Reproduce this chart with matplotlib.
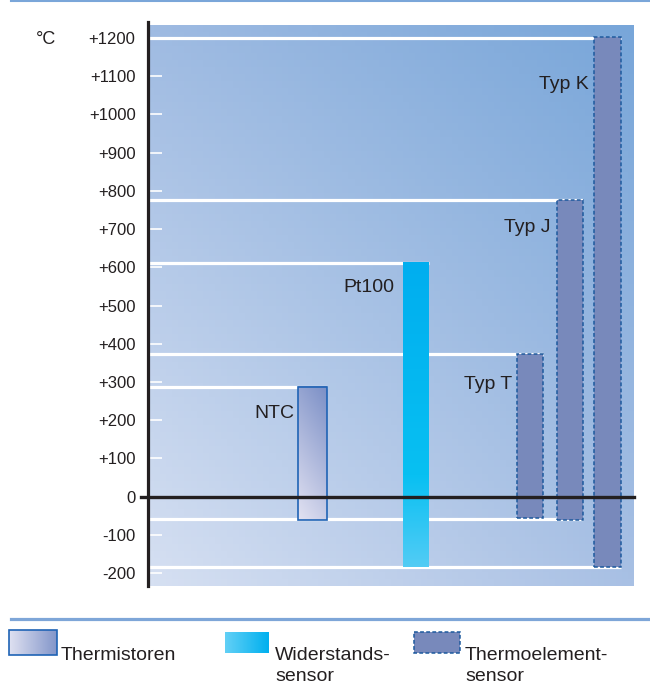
import numpy as np
import matplotlib.pyplot as plt
from matplotlib.patches import Rectangle
from matplotlib.colors import to_rgb

plt.rcParams['font.family'] = ['Liberation Sans', 'DejaVu Sans']

sensors = ['NTC', 'Pt100', 'Typ T', 'Typ J', 'Typ K']
t_min = [-62, -185, -55, -62, -185]
t_max = [287, 612, 373, 775, 1203]
kinds = ['thermistor', 'rtd', 'tc', 'tc', 'tc']

# white guide lines: level and the bar they run to
guide_levels = [1200, 775, 612, 373, 287, -58, -185]
guide_until = [4, 3, 1, 2, 0, 3, 4]

ticks = [-200, -100, 0, 100, 200, 300, 400, 500, 600, 700, 800, 900, 1000, 1100, 1200]
tick_labels = ['-200', '-100', '0', '+100', '+200', '+300', '+400', '+500', '+600',
               '+700', '+800', '+900', '+1000', '+1100', '+1200']

legend_first = ['Thermistoren', 'Widerstands-', 'Thermoelement-']
legend_second = ['', 'sensor', 'sensor']

# layout (x in pixels right of the axis)
x_pos = [164, 268, 382, 422, 459.5]
widths = [29, 26, 26, 26, 27]
label_x = [146, 246, 364, 402, 441]
label_y = [217, 548, 292, 703, 1077]

TXT = '#231f20'
TC_FACE = '#7889bb'
TC_EDGE = '#1d5a9e'
NTC_EDGE = '#1f63b5'


def gradient(c0, c1, n=64, horizontal=True):
    a = np.array(to_rgb(c0))
    b = np.array(to_rgb(c1))
    t = np.linspace(0, 1, n)
    g = a[None, :] * (1 - t[:, None]) + b[None, :] * t[:, None]
    return g[None, :, :] if horizontal else g[:, None, :]


fig = plt.figure(figsize=(6.5, 6.86), dpi=100)
ax = fig.add_axes([148 / 650, 100 / 686, 486 / 650, 561 / 686])
ylo, yhi = -234, 1234
xlo, xhi = 0, 486

# background, light bottom-left to darker top-right
tl, tr = np.array(to_rgb('#9fbbe2')), np.array(to_rgb('#78a6d9'))
bl, br = np.array(to_rgb('#d6e0f2')), np.array(to_rgb('#a8c0e4'))
u = np.linspace(0, 1, 80)[None, :, None]
v = np.linspace(0, 1, 80)[:, None, None]
bg = (bl * (1 - u) + br * u) * (1 - v) + (tl * (1 - u) + tr * u) * v
ax.imshow(bg, extent=[xlo, xhi, ylo, yhi], origin='lower', aspect='auto', zorder=0)

# guide lines
for lev, i in zip(guide_levels, guide_until):
    ax.plot([0, x_pos[i] + widths[i] / 2], [lev, lev], color='white', lw=2.3,
            solid_capstyle='butt', zorder=1)

# bars
for i, name in enumerate(sensors):
    x0 = x_pos[i] - widths[i] / 2
    x1 = x_pos[i] + widths[i] / 2
    if kinds[i] == 'thermistor':
        a = np.array(to_rgb('#e2e2f2'))
        b = np.array(to_rgb('#7b8fc6'))
        uu = np.linspace(0, 1, 40)[None, :, None]
        vv = np.linspace(0, 1, 200)[:, None, None]
        t = np.clip(0.75 * vv + 0.25 * uu, 0, 1)
        ax.imshow(a * (1 - t) + b * t, extent=[x0, x1, t_min[i], t_max[i]],
                  origin='lower', aspect='auto', zorder=2)
        ax.add_patch(Rectangle((x0, t_min[i]), x1 - x0, t_max[i] - t_min[i],
                               fill=False, edgecolor=NTC_EDGE, lw=1.2, zorder=3))
    elif kinds[i] == 'rtd':
        stops = [to_rgb('#52ccf5'), to_rgb('#08c0f2'), to_rgb('#00aeef')]
        vv = np.linspace(0, 1, 200)
        col = np.array([np.interp(vv, [0, 0.3, 1], [s[k] for s in stops]) for k in range(3)]).T
        ax.imshow(col[:, None, :], extent=[x0, x1, t_min[i], t_max[i]],
                  origin='lower', aspect='auto', zorder=2)
    else:
        ax.add_patch(Rectangle((x0, t_min[i]), x1 - x0, t_max[i] - t_min[i],
                               facecolor=TC_FACE, edgecolor=TC_EDGE, lw=1.1,
                               linestyle=(0, (2.5, 1.5)), zorder=3))
    ax.text(label_x[i], label_y[i], name, fontsize=14, color=TXT,
            ha='right', va='center', zorder=5)

# axis line and zero line
ax.plot([0, 0], [ylo, 1242], color=TXT, lw=2.3, clip_on=False, zorder=6)
ax.plot([-7, xhi], [0, 0], color=TXT, lw=2.4, clip_on=False, zorder=6)

ax.set_xlim(xlo, xhi)
ax.set_ylim(ylo, yhi)
for s in ax.spines.values():
    s.set_visible(False)
ax.set_xticks([])
ax.set_yticks(ticks)
ax.set_yticklabels(tick_labels)
ax.tick_params(axis='y', direction='in', length=10, width=1.2, color='white',
               pad=9, labelsize=12, labelcolor=TXT)
ax.text(-112, 1195, '°C', fontsize=13, color=TXT, ha='left', va='center')

# overlay in pixel coordinates for separator lines and legend
lax = fig.add_axes([0, 0, 1, 1])
lax.set_facecolor('none')
lax.axis('off')
lax.plot([11, 650], [0.8, 0.8], color='#7aa6d9', lw=1.5)
lax.plot([11, 650], [619, 619], color='#7ea6d8', lw=2.3)

# Thermistoren patch
lax.imshow(gradient('#dfe1f1', '#8396ca'), extent=[9, 57, 655, 630], aspect='auto')
lax.add_patch(Rectangle((9, 630), 48, 25, fill=False, edgecolor=NTC_EDGE, lw=1.2))
# Widerstandssensor patch
lax.imshow(gradient('#62d0f6', '#00b0ef'), extent=[225, 269, 653, 632], aspect='auto')
# Thermoelement patch
lax.add_patch(Rectangle((414, 632), 46, 21, facecolor=TC_FACE, edgecolor=TC_EDGE,
                        lw=1.1, linestyle=(0, (2.5, 1.5))))

for x, t1, t2 in zip([61, 275, 465], legend_first, legend_second):
    lax.text(x, 660, t1, fontsize=14, color=TXT, ha='left', va='baseline')
    if t2:
        lax.text(x, 681, t2, fontsize=14, color=TXT, ha='left', va='baseline')

lax.set_xlim(0, 650)
lax.set_ylim(686, 0)

fig.savefig('out.png', dpi=100)
